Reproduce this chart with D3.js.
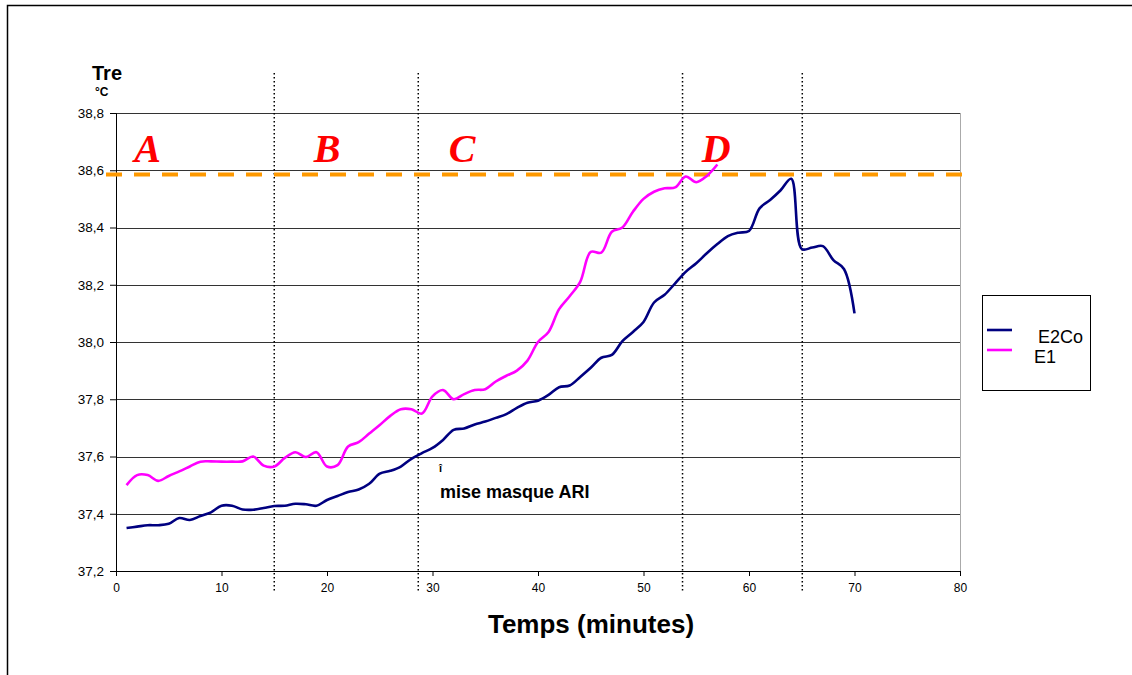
<!DOCTYPE html>
<html>
<head>
<meta charset="utf-8">
<script src="https://cdn.jsdelivr.net/npm/d3@7"></script>
<style>
  body { margin: 0; background: #fff; }
  text { font-family: "Liberation Sans", Arial, sans-serif; }
</style>
</head>
<body>
<svg></svg>
<script>
const width = 1132;
const height = 675;
const svg = d3.select("svg").attr("width", width).attr("height", height);

// minutes and temperatures (°C)
const minutesE2Co = d3.range(1, 71);
const valuesE2Co = [
  37.35, 37.355, 37.36, 37.36, 37.365, 37.385, 37.378, 37.392, 37.405, 37.428,
  37.428, 37.415, 37.414, 37.42, 37.427, 37.428, 37.435, 37.433, 37.428, 37.448,
  37.462, 37.476, 37.485, 37.505, 37.54, 37.55, 37.565, 37.592, 37.612, 37.63,
  37.658, 37.693, 37.698, 37.712, 37.722, 37.735, 37.748, 37.77, 37.788, 37.795,
  37.815, 37.842, 37.848, 37.878, 37.91, 37.945, 37.955, 38.003, 38.035, 38.07,
  38.138, 38.165, 38.205, 38.245, 38.275, 38.31, 38.342, 38.37, 38.382, 38.388,
  38.467, 38.496, 38.53, 38.57, 38.325, 38.33, 38.335, 38.286, 38.255, 38.10
];
const minutesE1 = d3.range(1, 58);
const valuesE1 = [
  37.50, 37.535, 37.535, 37.515, 37.532, 37.548, 37.565, 37.582, 37.583, 37.582,
  37.582, 37.583, 37.60, 37.568, 37.565, 37.595, 37.615, 37.598, 37.615, 37.565,
  37.57, 37.635, 37.65, 37.68, 37.71, 37.742, 37.765, 37.765, 37.75, 37.81,
  37.832, 37.80, 37.818, 37.832, 37.835, 37.862, 37.882, 37.90, 37.935, 38.0,
  38.035, 38.115, 38.16, 38.21, 38.315, 38.312, 38.385, 38.40, 38.455, 38.50,
  38.525, 38.537, 38.54, 38.578, 38.558, 38.58, 38.62
];
const seriesNames = ["E2Co", "E1"];
const seriesColors = ["#000080", "#ff00ff"];

const phaseLabels = ["A", "B", "C", "D"];
const phaseLabelMinutes = [3, 20, 32.8, 56.9];
const phaseBounds = [15, 28.65, 53.7, 65.05];
const thresholdTemp = 38.585;

const xTicks = d3.range(0, 81, 10);
const yTicks = [37.2, 37.4, 37.6, 37.8, 38.0, 38.2, 38.4, 38.6, 38.8];

const x = d3.scaleLinear().domain([0, 80]).range([116, 960]);
const y = d3.scaleLinear().domain([37.2, 38.8]).range([571, 113]);
const frFormat = d3.formatLocale({ decimal: ",", thousands: " ", grouping: [3], currency: ["", "€"] }).format(".1f");

// outer frame
svg.append("rect")
  .attr("x", 7.5).attr("y", 5.5)
  .attr("width", 1200).attr("height", 800)
  .attr("fill", "none").attr("stroke", "#000").attr("stroke-width", 1.5);

// gridlines
svg.append("g")
  .selectAll("line")
  .data(yTicks.slice(1))
  .join("line")
  .attr("x1", x(0)).attr("x2", x(80))
  .attr("y1", d => Math.round(y(d)) + 0.5).attr("y2", d => Math.round(y(d)) + 0.5)
  .attr("stroke", "#333").attr("stroke-width", 1);

// right border of plot area
svg.append("line")
  .attr("x1", x(80) + 0.5).attr("x2", x(80) + 0.5)
  .attr("y1", y(38.8)).attr("y2", y(37.2))
  .attr("stroke", "#aaa");

// axes
const yAxis = svg.append("g")
  .attr("transform", `translate(${x(0)},0)`)
  .call(d3.axisLeft(y).tickValues(yTicks).tickFormat(frFormat).tickSize(6).tickPadding(6));
yAxis.selectAll("text").attr("font-size", 13.5).attr("fill", "#000").style("font-family", "Liberation Sans");
yAxis.selectAll("line, path").attr("stroke", "#000");

const xAxis = svg.append("g")
  .attr("transform", `translate(0,${y(37.2)})`)
  .call(d3.axisBottom(x).tickValues(xTicks).tickSize(5).tickPadding(7));
xAxis.selectAll("text").attr("font-size", 12).attr("fill", "#000").style("font-family", "Liberation Sans");
xAxis.selectAll("line, path").attr("stroke", "#000");

// phase boundaries
svg.append("g")
  .selectAll("line")
  .data(phaseBounds)
  .join("line")
  .attr("x1", d => x(d)).attr("x2", d => x(d))
  .attr("y1", 73).attr("y2", 593)
  .attr("stroke", "#000").attr("stroke-width", 1.5)
  .attr("stroke-dasharray", "1.5,2.5");

// threshold
svg.append("line")
  .attr("x1", x(0) - 10).attr("x2", x(80) + 2)
  .attr("y1", y(thresholdTemp)).attr("y2", y(thresholdTemp))
  .attr("stroke", "#ff9900").attr("stroke-width", 4)
  .attr("stroke-dasharray", "16,12");

// series
const line = d3.line()
  .x(d => x(d[0]))
  .y(d => y(d[1]))
  .curve(d3.curveCatmullRom.alpha(0.5));

const series = [
  d3.zip(minutesE2Co, valuesE2Co),
  d3.zip(minutesE1, valuesE1)
];

svg.append("g")
  .selectAll("path")
  .data(series)
  .join("path")
  .attr("d", line)
  .attr("fill", "none")
  .attr("stroke", (d, i) => seriesColors[i])
  .attr("stroke-width", 2.6)
  .attr("stroke-linejoin", "round");

// phase letters
svg.append("g")
  .selectAll("text")
  .data(phaseLabels)
  .join("text")
  .attr("x", (d, i) => x(phaseLabelMinutes[i]))
  .attr("y", 162)
  .attr("text-anchor", "middle")
  .style("font-family", "'Liberation Serif', 'Times New Roman', serif")
  .attr("font-size", 40)
  .attr("font-weight", "bold")
  .attr("font-style", "italic")
  .attr("fill", "#ff0000")
  .text(d => d);

// axis titles
svg.append("text")
  .attr("x", 92).attr("y", 80)
  .attr("font-size", 20).attr("font-weight", "bold")
  .text("Tre");
svg.append("text")
  .attr("x", 95).attr("y", 96)
  .attr("font-size", 12).attr("font-weight", "bold")
  .text("°C");

svg.append("text")
  .attr("x", 591).attr("y", 633)
  .attr("text-anchor", "middle")
  .attr("font-size", 26).attr("font-weight", "bold")
  .text("Temps (minutes)");

// annotation
svg.append("text")
  .attr("x", 439).attr("y", 472)
  .attr("font-size", 11).attr("font-weight", "bold")
  .text("î");
svg.append("text")
  .attr("x", 440).attr("y", 498)
  .attr("font-size", 18).attr("font-weight", "bold")
  .text("mise masque ARI");

// legend
const legend = svg.append("g").attr("transform", "translate(982,295)");
legend.append("rect")
  .attr("x", 0.5).attr("y", 0.5)
  .attr("width", 108).attr("height", 95)
  .attr("fill", "#fff").attr("stroke", "#000");
const legendItems = legend.selectAll("g.item")
  .data(seriesNames)
  .join("g")
  .attr("class", "item")
  .attr("transform", (d, i) => `translate(0,${35 + i * 20})`);
legendItems.append("line")
  .attr("x1", 5).attr("x2", 30)
  .attr("stroke", (d, i) => seriesColors[i])
  .attr("stroke-width", 2.6);
legendItems.append("text")
  .attr("x", (d, i) => i === 0 ? 56 : 52)
  .attr("y", 13)
  .attr("font-size", 18)
  .text(d => d);
</script>
</body>
</html>
